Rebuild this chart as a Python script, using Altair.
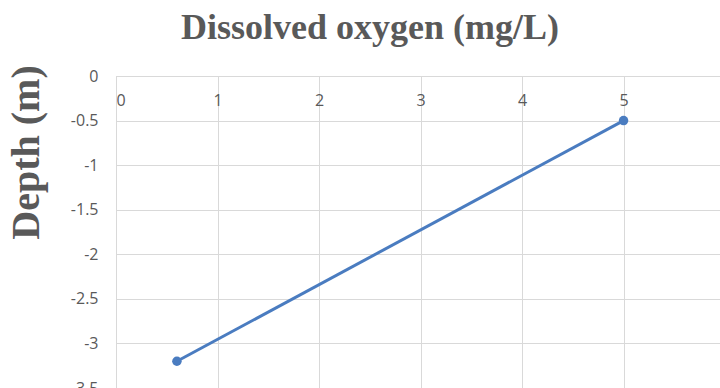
import altair as alt
import pandas as pd

# Dissolved oxygen profile: concentration (mg/L) against depth (m)
oxygen = [0.6, 5.0]
depth = [-3.2, -0.5]

df = pd.DataFrame({"oxygen": oxygen, "depth": depth})

GRID = "#d9d9d9"
TEXT = "#595959"
LINE = "#4a7cc0"

x_axis = alt.Axis(
    orient="top",
    values=[0, 1, 2, 3, 4, 5],
    ticks=False,
    labelExpr="datum.value + ''",
    labelBaseline="middle",
    labelPadding=-24,
    labelFont="Open Sans",
    labelFontSize=16,
    labelColor=TEXT,
    domainColor=GRID,
    gridColor=GRID,
    gridWidth=1,
    title=None,
)

y_axis = alt.Axis(
    values=[0, -0.5, -1, -1.5, -2, -2.5, -3, -3.5],
    ticks=False,
    labelExpr="datum.value + ''",
    labelPadding=18,
    labelFont="Open Sans",
    labelFontSize=16,
    labelColor=TEXT,
    domainColor=GRID,
    gridColor=GRID,
    gridWidth=1,
    title="Depth (m)",
    titleFont="Liberation Serif",
    titleFontWeight="bold",
    titleFontSize=40,
    titleColor=TEXT,
    titleAngle=-90,
    titleAlign="center",
    titleBaseline="middle",
    titleX=-90,
    titleY=76,
)

base = alt.Chart(df).encode(
    x=alt.X("oxygen:Q", scale=alt.Scale(domain=[0, 5.95], nice=False, zero=False), axis=x_axis),
    y=alt.Y("depth:Q", scale=alt.Scale(domain=[-3.5, 0], nice=False), axis=y_axis),
)

line = base.mark_line(color=LINE, strokeWidth=3)
points = base.mark_point(color=LINE, filled=True, opacity=1, size=90)

chart = (
    (line + points)
    .properties(
        width=604,
        height=312,
        autosize=alt.AutoSizeParams(type="none"),
        padding={"left": 116, "top": 76, "right": 0, "bottom": 0},
        title=alt.TitleParams(
            "Dissolved oxygen (mg/L)",
            font="Liberation Serif",
            fontWeight="bold",
            fontSize=36,
            color=TEXT,
            anchor="middle",
            frame="group",
            dx=-48,
            dy=44,
            baseline="alphabetic",
            offset=34,
        ),
    )
    .configure_view(stroke=None)
    .configure(background="white")
)

chart.save("out.html", embed_options={"renderer": "svg", "actions": False})
